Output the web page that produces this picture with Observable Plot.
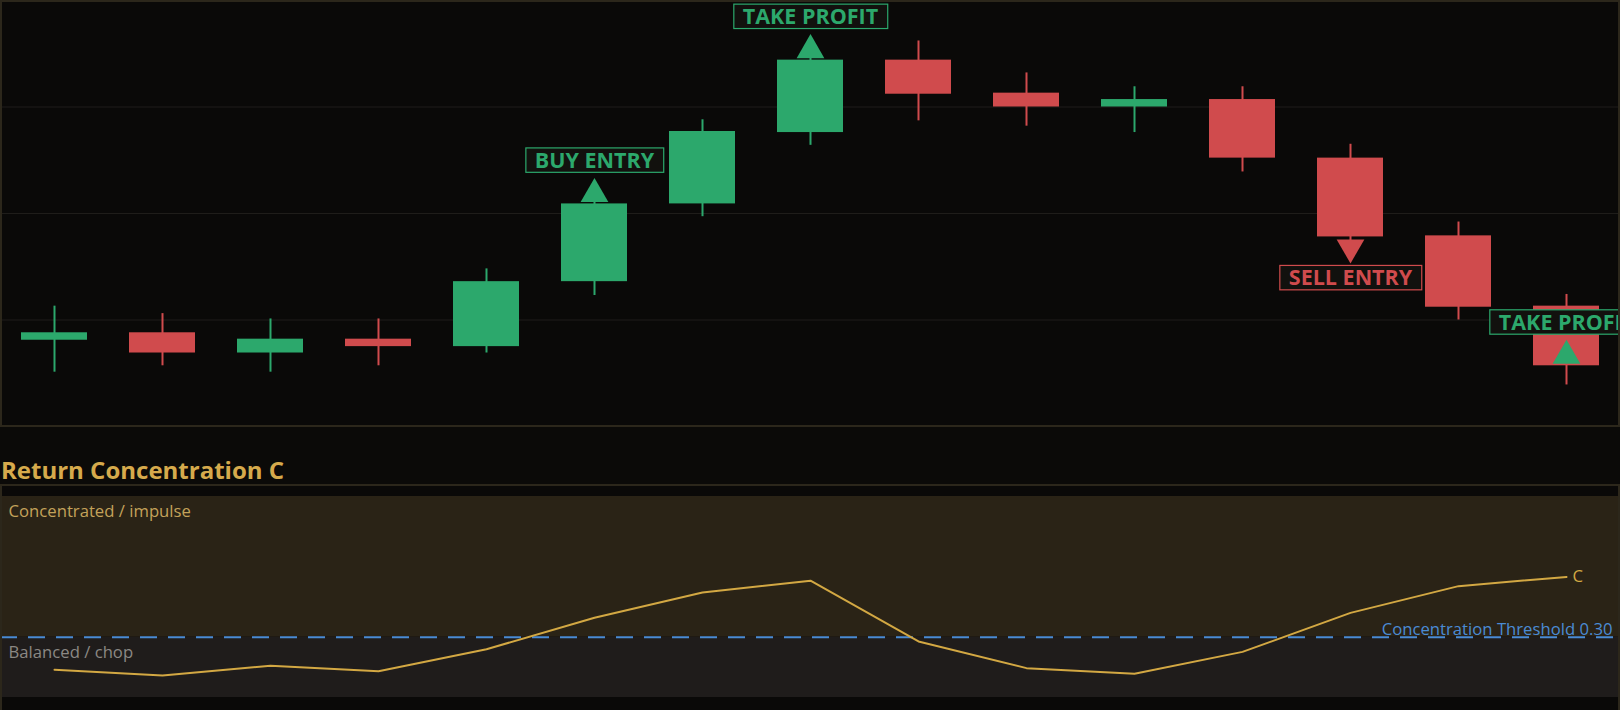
<!DOCTYPE html>
<html>
<head>
<meta charset="utf-8">
<script src="https://cdn.jsdelivr.net/npm/d3@7"></script>
<script src="https://cdn.jsdelivr.net/npm/@observablehq/plot@0.6"></script>
<style>
  html, body { margin: 0; padding: 0; background: #0a0908; width: 1620px; height: 710px; overflow: hidden; font-family: "Open Sans", "Noto Sans", sans-serif; }
  #wrap { position: relative; width: 1620px; height: 710px; }
  #top { position: absolute; left: 0; top: 0; width: 1620px; height: 427px; background: #0a0908; }
  #topBorder { position: absolute; left: 0; top: 0; width: 1616px; height: 423px; border: 2px solid #2c271b; pointer-events: none; }
  #strip { position: absolute; left: 0; top: 427px; width: 1620px; height: 57px; background: #0b0a08; }
  #title { position: absolute; left: 1px; top: 458px; margin: 0; font-size: 24px; line-height: 1; font-weight: 700; color: #d6aa4c; white-space: nowrap; }
  #bottom { position: absolute; left: 0; top: 485px; width: 1620px; height: 225px; background: #0a0908; }
  #botBorder { position: absolute; left: 0; top: 484px; width: 1616px; height: 226px; border: 2px solid #2c271b; border-bottom: none; pointer-events: none; }
  svg { display: block; }
</style>
</head>
<body>
<div id="wrap">
  <div id="top"></div>
  <div id="topBorder"></div>
  <div id="strip"></div>
  <div id="title">Return Concentration C</div>
  <div id="bottom"></div>
  <div id="botBorder"></div>
</div>
<script>
// ---------- data ----------
const BAR_INDEX = d3.range(15);
const OPEN  = [100.81, 100.88, 100.69, 100.82, 100.75, 101.36, 102.09, 102.76, 103.44, 103.13, 103.00, 103.07, 102.52, 101.79, 101.13];
const CLOSE = [100.88, 100.69, 100.82, 100.75, 101.36, 102.09, 102.77, 103.44, 103.12, 103.00, 103.07, 102.52, 101.78, 101.12, 100.57];
const HIGH  = [101.13, 101.06, 101.01, 101.01, 101.48, 102.12, 102.88, 103.47, 103.62, 103.32, 103.19, 103.19, 102.65, 101.92, 101.24];
const LOW   = [100.51, 100.57, 100.51, 100.57, 100.69, 101.23, 101.97, 102.64, 102.87, 102.82, 102.76, 102.39, 101.74, 101.00, 100.39];
const PRICE_GRID = [101, 102, 103];
const PRICE_DOMAIN = [100, 104];

const SIGNAL_INDEX = [5, 7, 12, 14];
const SIGNAL_TEXT  = ["BUY ENTRY", "TAKE PROFIT", "SELL ENTRY", "TAKE PROFIT"];
const SIGNAL_SIDE  = ["above", "above", "below", "above"];
const SIGNAL_TONE  = ["up", "up", "down", "up"];

const C_VALUES = [0.138, 0.109, 0.158, 0.131, 0.240, 0.397, 0.522, 0.581, 0.279, 0.146, 0.118, 0.227, 0.421, 0.554, 0.600];
const C_DOMAIN = [0, 1];
const THRESHOLD = 0.30;
const THRESHOLD_LABEL = "Concentration Threshold 0.30";
const ZONE_HIGH_LABEL = "Concentrated / impulse";
const ZONE_LOW_LABEL = "Balanced / chop";
const LINE_LABEL = "C";

// ---------- styles ----------
const GREEN = "#2ca86c", RED = "#d04b4d", GOLD = "#d3a843", BLUE = "#4a8bd4";
const FONT = "Open Sans";

const candles = BAR_INDEX.map(i => ({
  i, open: OPEN[i], close: CLOSE[i], high: HIGH[i], low: LOW[i],
  dir: CLOSE[i] >= OPEN[i] ? "up" : "down"
}));
const signals = SIGNAL_INDEX.map((i, k) => ({
  i, price: CLOSE[i], text: SIGNAL_TEXT[k], side: SIGNAL_SIDE[k], tone: SIGNAL_TONE[k]
}));
const above = signals.filter(d => d.side === "above");
const below = signals.filter(d => d.side === "below");

const xBand = {type: "band", domain: BAR_INDEX, paddingInner: 0.3889, paddingOuter: 0.1944, align: 0.5, round: false, axis: null};

const topPlot = Plot.plot({
  width: 1620, height: 427,
  marginTop: 0, marginBottom: 1, marginLeft: 0, marginRight: 0,
  style: {background: "transparent", fontFamily: FONT},
  x: xBand,
  y: {domain: PRICE_DOMAIN, axis: null},
  color: {domain: ["up", "down"], range: [GREEN, RED]},
  marks: [
    Plot.ruleY(PRICE_GRID, {stroke: "#1f1d1a", strokeWidth: 1.2}),
    Plot.ruleX(candles, {x: "i", y1: "low", y2: "high", stroke: "dir", strokeWidth: 2}),
    Plot.barY(candles, {x: "i", y1: "open", y2: "close", fill: "dir"}),
    Plot.dot(above, {x: "i", y: "price", symbol: "triangle", r: 10.3, fill: "tone", dy: -10}),
    Plot.dot(below, {x: "i", y: "price", symbol: "triangle", r: 10.3, fill: "tone", rotate: 180, dy: 10.5}),
    Plot.text(above, {x: "i", y: "price", text: "text", fill: "tone", dy: -43, fontSize: 21.5, fontWeight: 700, fontFamily: FONT}),
    Plot.text(below, {x: "i", y: "price", text: "text", fill: "tone", dy: 41.5, fontSize: 21.5, fontWeight: 700, fontFamily: FONT})
  ]
});
document.getElementById("top").append(topPlot);

// boxes behind signal labels, sized from the rendered text
const labelSet = new Set(SIGNAL_TEXT);
topPlot.querySelectorAll("text").forEach(t => {
  if (!labelSet.has(t.textContent)) return;
  const b = t.getBBox();
  const r = document.createElementNS("http://www.w3.org/2000/svg", "rect");
  const col = t.getAttribute("fill") || t.parentNode.getAttribute("fill");
  r.setAttribute("x", b.x - 9);
  r.setAttribute("width", b.width + 18);
  r.setAttribute("y", -13);
  r.setAttribute("height", 24.4);
  if (t.getAttribute("transform")) r.setAttribute("transform", t.getAttribute("transform"));
  r.setAttribute("fill", "#12110e");
  r.setAttribute("stroke", col);
  r.setAttribute("stroke-width", 1.2);
  t.parentNode.insertBefore(r, t);
});

const cData = BAR_INDEX.map(i => ({i, c: C_VALUES[i]}));
const last = cData[cData.length - 1];

const bottomPlot = Plot.plot({
  width: 1620, height: 225,
  marginTop: 11, marginBottom: 13, marginLeft: 0, marginRight: 0,
  style: {background: "transparent", fontFamily: FONT},
  x: xBand,
  y: {domain: C_DOMAIN, axis: null},
  marks: [
    Plot.rect([{lo: THRESHOLD, hi: C_DOMAIN[1]}], {y1: "lo", y2: "hi", fill: "#2a2316"}),
    Plot.rect([{lo: C_DOMAIN[0], hi: THRESHOLD}], {y1: "lo", y2: "hi", fill: "#1f1c1b"}),
    Plot.ruleY([THRESHOLD], {stroke: BLUE, strokeWidth: 2, strokeDasharray: "17,11"}),
    Plot.line(cData, {x: "i", y: "c", stroke: GOLD, strokeWidth: 2}),
    Plot.text([last], {x: "i", y: "c", text: () => LINE_LABEL, textAnchor: "start", dx: 6, fill: GOLD, fontSize: 16.7, fontFamily: FONT}),
    Plot.text([THRESHOLD], {y: d => d, text: () => THRESHOLD_LABEL, frameAnchor: "right", textAnchor: "end", lineAnchor: "bottom", dx: -8, dy: -2.5, fill: BLUE, fontSize: 16.7, fontFamily: FONT}),
    Plot.text([ZONE_HIGH_LABEL], {text: d => d, frameAnchor: "top-left", textAnchor: "start", lineAnchor: "top", dx: 8, dy: 9, fill: "#c4a25a", fontSize: 16.7, fontFamily: FONT}),
    Plot.text([THRESHOLD], {y: d => d, text: () => ZONE_LOW_LABEL, frameAnchor: "left", textAnchor: "start", lineAnchor: "top", dx: 8, dy: 9, fill: "#8b8884", fontSize: 16.7, fontFamily: FONT})
  ]
});
document.getElementById("bottom").append(bottomPlot);
</script>
</body>
</html>
